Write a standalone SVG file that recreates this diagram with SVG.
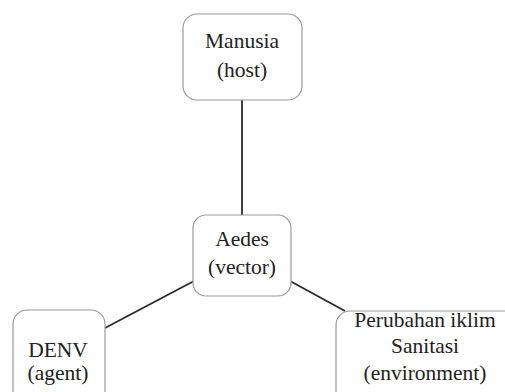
<svg xmlns="http://www.w3.org/2000/svg" width="505" height="392" viewBox="0 0 505 392">
<style>
.box{fill:#fff;stroke:#9a9a9a;stroke-width:1.2}
.lbl{font-family:"Liberation Serif","Times New Roman",serif;font-size:21.5px;fill:#222;text-anchor:middle}
.edge{stroke:#2a2a2a;stroke-width:1.8;fill:none}
</style>
<rect width="505" height="392" fill="#fff"/>
<g id="connectors">
<line class="edge" x1="242" y1="100" x2="242" y2="215"/>
<line class="edge" x1="105" y1="328" x2="194" y2="281"/>
<line class="edge" x1="290" y1="281" x2="345" y2="311"/>
</g>
<g id="manusia">
<rect class="box" x="183" y="14" width="119" height="86" rx="14"/>
<text class="lbl" x="242" y="48">Manusia</text>
<text class="lbl" x="242" y="77">(host)</text>
</g>
<g id="aedes">
<rect class="box" x="193" y="215" width="98" height="81" rx="13"/>
<text class="lbl" x="242" y="246">Aedes</text>
<text class="lbl" x="242" y="274">(vector)</text>
</g>
<g id="denv">
<rect class="box" x="13" y="310" width="92" height="100" rx="14"/>
<text class="lbl" x="58" y="357">DENV</text>
<text class="lbl" x="58" y="380">(agent)</text>
</g>
<g id="environment">
<rect class="box" x="336" y="311" width="190" height="100" rx="14"/>
<text class="lbl" x="425" y="327">Perubahan iklim</text>
<text class="lbl" x="425" y="353">Sanitasi</text>
<text class="lbl" x="425" y="380">(environment)</text>
</g>
</svg>
